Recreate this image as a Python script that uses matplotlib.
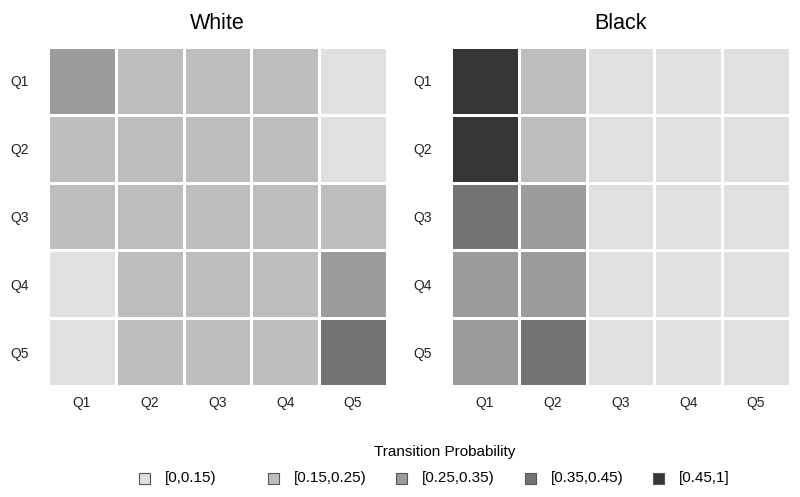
import numpy as np
import matplotlib
matplotlib.use("Agg")
from matplotlib import pyplot as plt
from matplotlib.colors import ListedColormap, BoundaryNorm
from matplotlib.patches import Rectangle

plt.rcParams['font.family'] = ['Liberation Sans', 'DejaVu Sans']

quintiles = ["Q1", "Q2", "Q3", "Q4", "Q5"]

# transition probabilities (rows = origin quintile, cols = destination)
white_probs = [
    [0.30, 0.20, 0.20, 0.20, 0.10],
    [0.22, 0.22, 0.22, 0.22, 0.12],
    [0.20, 0.20, 0.20, 0.20, 0.20],
    [0.12, 0.20, 0.20, 0.20, 0.28],
    [0.10, 0.17, 0.17, 0.17, 0.39],
]
black_probs = [
    [0.60, 0.20, 0.08, 0.06, 0.06],
    [0.52, 0.22, 0.10, 0.08, 0.08],
    [0.38, 0.28, 0.14, 0.11, 0.09],
    [0.30, 0.28, 0.14, 0.14, 0.14],
    [0.28, 0.36, 0.13, 0.12, 0.11],
]

bin_edges = [0, 0.15, 0.25, 0.35, 0.45, 1.0]
bin_labels = ["[0,0.15)", "[0.15,0.25)", "[0.25,0.35)", "[0.35,0.45)", "[0.45,1]"]
bin_colors = ["#e0e0e0", "#bdbdbd", "#9c9c9c", "#737373", "#363636"]

cmap = ListedColormap(bin_colors)
norm = BoundaryNorm(bin_edges, cmap.N)

fig = plt.figure(figsize=(8, 4.97), dpi=100)

panels = [("White", white_probs, 48), ("Black", black_probs, 451)]
for title, probs, left_px in panels:
    ax = fig.add_axes([left_px / 800, 111 / 497, 339 / 800, 339 / 497])
    data = np.array(probs)
    ax.pcolormesh(data, cmap=cmap, norm=norm, edgecolors="white", linewidth=2)
    ax.set_xlim(0, 5)
    ax.set_ylim(5, 0)
    ax.set_xticks(np.arange(5) + 0.5)
    ax.set_yticks(np.arange(5) + 0.5)
    ax.set_xticklabels(quintiles, fontsize=10)
    ax.set_yticklabels(quintiles, fontsize=10)
    ax.tick_params(length=0, pad=7, colors="#222222")
    ax.tick_params(axis="y", pad=14)
    for s in ax.spines.values():
        s.set_visible(False)
    ax.set_title(title, fontsize=15.5, pad=13)

# legend drawn by hand so columns are evenly spaced
fig.text(445 / 800, 1 - 452 / 497, "Transition Probability", ha="center", va="center",
         fontsize=11)
for i, (lab, col) in enumerate(zip(bin_labels, bin_colors)):
    x0 = (139 + i * 128.5) / 800
    y0 = 1 - 478 / 497
    fig.patches.append(Rectangle((x0, y0 - 5.5 / 497), 11 / 800, 11 / 497,
                                 transform=fig.transFigure, facecolor=col,
                                 edgecolor="#555555", linewidth=0.8))
    fig.text(x0 + 26 / 800, y0, lab, ha="left", va="center", fontsize=11)

fig.savefig("out.png", dpi=100)
